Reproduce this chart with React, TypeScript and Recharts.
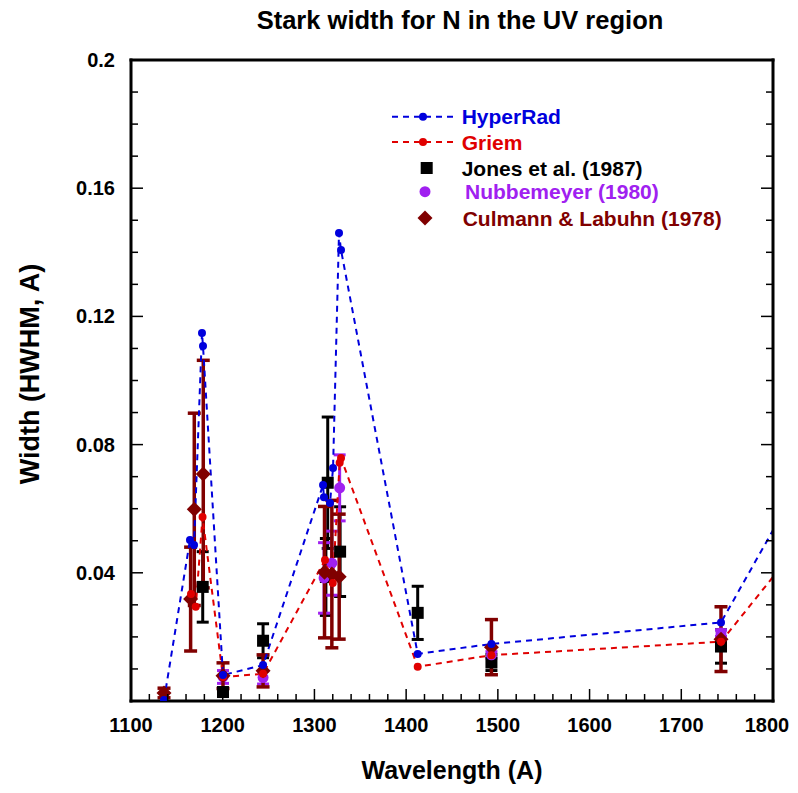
import React from 'react';
import { ComposedChart, Line, Scatter, XAxis, YAxis, ErrorBar } from 'recharts';

// HyperRad theory (blue dashed)
const hyperRadX = [1136, 1164.3, 1168.7, 1177.4, 1178.5, 1200.3, 1244, 1309.4, 1310.4, 1317, 1320.3, 1326.8, 1329, 1412.6, 1493, 1743.3, 1800];
const hyperRadY = [0.0003, 0.0502, 0.0487, 0.1148, 0.1108, 0.0081, 0.0112, 0.0674, 0.0636, 0.0618, 0.0727, 0.146, 0.1407, 0.0147, 0.0178, 0.0245, 0.0533];

// Griem theory (red dashed)
const griemX = [1165.4, 1170.6, 1178, 1200.3, 1244, 1311.5, 1320, 1327.5, 1329, 1412.6, 1493, 1743.3, 1800];
const griemY = [0.0334, 0.0294, 0.0574, 0.0075, 0.0085, 0.044, 0.0368, 0.0743, 0.0758, 0.0107, 0.0143, 0.0185, 0.0387];

// Jones et al. (1987)
const jonesX = [1178.2, 1200.3, 1244, 1312.5, 1314.5, 1328, 1412.6, 1493, 1743.3];
const jonesY = [0.0356, 0.0028, 0.0188, 0.0387, 0.0681, 0.0466, 0.0275, 0.012, 0.017];
const jonesErr = [0.011, 0.001, 0.0053, 0.012, 0.0205, 0.014, 0.0083, 0.0025, 0.0052];

// Nubbemeyer (1980)
const nubX = [1200.3, 1244, 1310.5, 1319, 1327.5, 1493, 1743.3];
const nubY = [0.0075, 0.0073, 0.0384, 0.043, 0.0665, 0.0144, 0.0212];
const nubErr = [0.002, 0.002, 0.011, 0.01, 0.0103, 0.001, 0.001];

// Culmann & Labuhn (1978)
const culX = [1136, 1165, 1169, 1178.8, 1200.3, 1244, 1311, 1319, 1327, 1493, 1743.3];
const culY = [0.0025, 0.0318, 0.0598, 0.0708, 0.0079, 0.0094, 0.0402, 0.0396, 0.0388, 0.0168, 0.0193];
const culErr = [0.0015, 0.0162, 0.03, 0.0355, 0.004, 0.005, 0.0205, 0.023, 0.0195, 0.0086, 0.0101];

// Axis ticks
const xMajorTicks = [1100, 1200, 1300, 1400, 1500, 1600, 1700, 1800];
const xMinorTicks = [1120, 1140, 1160, 1180, 1220, 1240, 1260, 1280, 1320, 1340, 1360, 1380, 1420, 1440, 1460, 1480, 1520, 1540, 1560, 1580, 1620, 1640, 1660, 1680, 1720, 1740, 1760, 1780];
const yMajorTicks = [0, 0.04, 0.08, 0.12, 0.16, 0.2];
const yMinorTicks = [0.01, 0.02, 0.03, 0.05, 0.06, 0.07, 0.09, 0.1, 0.11, 0.13, 0.14, 0.15, 0.17, 0.18, 0.19];
const yLabelTicks = [0.04, 0.08, 0.12, 0.16, 0.2];

const zip2 = (xs: number[], ys: number[]) => xs.map((x, i) => ({ x, y: ys[i] }));
const zip3 = (xs: number[], ys: number[], es: number[]) => xs.map((x, i) => ({ x, y: ys[i], err: es[i] }));

const hyperRadData = zip2(hyperRadX, hyperRadY);
const griemData = zip2(griemX, griemY);
const jonesData = zip3(jonesX, jonesY, jonesErr);
const nubData = zip3(nubX, nubY, nubErr);
const culData = zip3(culX, culY, culErr);

const xAllTicks = [...xMajorTicks, ...xMinorTicks].sort((a, b) => a - b);
const yAllTicks = [...yMajorTicks, ...yMinorTicks].sort((a, b) => a - b);

const FONT = '"Liberation Sans", Arial, Helvetica, sans-serif';
const BLUE = '#0000dd';
const RED = '#e00000';
const PURPLE = '#a020f0';
const MAROON = '#800000';

const MAJ = 12;
const MIN = 7;

const BottomTick = (props: any) => {
  const { x, y, payload } = props;
  const v = payload.value;
  const major = xMajorTicks.includes(v);
  const last = v === xMajorTicks[xMajorTicks.length - 1];
  return (
    <g>
      <line x1={x} x2={x} y1={y} y2={y - (major ? MAJ : MIN)} stroke="#000" strokeWidth={1.5} />
      {major && (
        <text x={last ? x - 6 : x} y={y + 31} textAnchor="middle" fontSize={20} fontWeight="bold" fontFamily={FONT} fill="#000">
          {v}
        </text>
      )}
    </g>
  );
};

const TopTick = (props: any) => {
  const { x, y, payload } = props;
  const major = xMajorTicks.includes(payload.value);
  return <line x1={x} x2={x} y1={y} y2={y + (major ? MAJ : MIN)} stroke="#000" strokeWidth={1.5} />;
};

const LeftTick = (props: any) => {
  const { x, y, payload } = props;
  const v = payload.value;
  const major = yMajorTicks.includes(v);
  const label = yLabelTicks.includes(v);
  return (
    <g>
      <line x1={x} x2={x + (major ? MAJ : MIN)} y1={y} y2={y} stroke="#000" strokeWidth={1.5} />
      {label && (
        <text x={x - 16} y={y + 7} textAnchor="end" fontSize={20} fontWeight="bold" fontFamily={FONT} fill="#000">
          {String(v)}
        </text>
      )}
    </g>
  );
};

const RightTick = (props: any) => {
  const { x, y, payload } = props;
  const major = yMajorTicks.includes(payload.value);
  return <line x1={x} x2={x - (major ? MAJ : MIN)} y1={y} y2={y} stroke="#000" strokeWidth={1.5} />;
};

const makeDot = (color: string) => (props: any) => {
  const { cx, cy, payload, index } = props;
  if (payload.x >= 1800 || cx == null) return <g key={`d${index}`} />;
  return <circle key={`d${index}`} cx={cx} cy={cy} r={4} fill={color} stroke="none" />;
};

const SquareShape = (props: any) => {
  const { cx, cy } = props;
  return <rect x={cx - 6} y={cy - 6} width={12} height={12} fill="#000" />;
};
const CircleShape = (props: any) => {
  const { cx, cy } = props;
  return <circle cx={cx} cy={cy} r={5.5} fill={PURPLE} />;
};
const DiamondShape = (props: any) => {
  const { cx, cy } = props;
  const d = 7.5;
  return <polygon points={`${cx},${cy - d} ${cx + d},${cy} ${cx},${cy + d} ${cx - d},${cy}`} fill={MAROON} />;
};

const axisLineStyle = { stroke: '#000', strokeWidth: 3, strokeLinecap: 'square' as const };

const W = 782;
const H = 777;

export default function App() {
  return (
    <div style={{ position: 'relative', width: W, height: H }}>
      <ComposedChart width={W} height={H} margin={{ top: 51, left: 122, right: 16, bottom: 83 }}>
        <XAxis
          xAxisId="main"
          dataKey="x"
          type="number"
          domain={[1100, 1800]}
          allowDataOverflow
          ticks={xAllTicks}
          interval={0}
          height={1}
          tickSize={0}
          tickMargin={0}
          tickLine={false}
          axisLine={axisLineStyle}
          tick={<BottomTick />}
        />
        <XAxis
          xAxisId="top"
          orientation="top"
          type="number"
          domain={[1100, 1800]}
          allowDataOverflow
          ticks={xAllTicks}
          interval={0}
          height={1}
          tickSize={0}
          tickMargin={0}
          tickLine={false}
          axisLine={axisLineStyle}
          tick={<TopTick />}
        />
        <YAxis
          yAxisId="main"
          dataKey="y"
          type="number"
          domain={[0, 0.2]}
          allowDataOverflow
          ticks={yAllTicks}
          interval={0}
          width={1}
          tickSize={0}
          tickMargin={0}
          tickLine={false}
          axisLine={axisLineStyle}
          tick={<LeftTick />}
        />
        <YAxis
          yAxisId="right"
          orientation="right"
          type="number"
          domain={[0, 0.2]}
          allowDataOverflow
          ticks={yAllTicks}
          interval={0}
          width={1}
          tickSize={0}
          tickMargin={0}
          tickLine={false}
          axisLine={axisLineStyle}
          tick={<RightTick />}
        />

        <Scatter name="Jones et al. (1987)" data={jonesData} dataKey="y" xAxisId="main" yAxisId="main" shape={<SquareShape />} isAnimationActive={false}>
          <ErrorBar dataKey="err" direction="y" width={6} stroke="#000" strokeWidth={3} isAnimationActive={false} />
        </Scatter>
        <Scatter name="Nubbemeyer (1980)" data={nubData} dataKey="y" xAxisId="main" yAxisId="main" shape={<CircleShape />} isAnimationActive={false}>
          <ErrorBar dataKey="err" direction="y" width={6} stroke={PURPLE} strokeWidth={3} isAnimationActive={false} />
        </Scatter>
        <Scatter name="Culmann & Labuhn (1978)" data={culData} dataKey="y" xAxisId="main" yAxisId="main" shape={<DiamondShape />} isAnimationActive={false}>
          <ErrorBar dataKey="err" direction="y" width={6.5} stroke={MAROON} strokeWidth={3.5} isAnimationActive={false} />
        </Scatter>

        <Line
          name="Griem"
          data={griemData}
          dataKey="y"
          xAxisId="main"
          yAxisId="main"
          type="linear"
          stroke={RED}
          strokeWidth={2}
          strokeDasharray="6 5"
          dot={makeDot(RED)}
          activeDot={false}
          isAnimationActive={false}
        />
        <Line
          name="HyperRad"
          data={hyperRadData}
          dataKey="y"
          xAxisId="main"
          yAxisId="main"
          type="linear"
          stroke={BLUE}
          strokeWidth={2}
          strokeDasharray="6 5"
          dot={makeDot(BLUE)}
          activeDot={false}
          isAnimationActive={false}
        />
      </ComposedChart>

      <svg
        width={W}
        height={H}
        style={{ position: 'absolute', left: 0, top: 0, overflow: 'visible', pointerEvents: 'none' }}
      >
        <g fontFamily={FONT} fontWeight="bold">
          <text x={452} y={21} textAnchor="middle" fontSize={25.5} fill="#000">
            Stark width for N in the UV region
          </text>
          <text x={444} y={771} textAnchor="middle" fontSize={25} fill="#000">
            Wavelength (A)
          </text>
          <text x={31} y={366} textAnchor="middle" fontSize={27} fill="#000" transform="rotate(-90 31 366)">
            Width (HWHM, A)
          </text>

          {/* Legend */}
          <line x1={384} x2={447} y1={108.7} y2={108.7} stroke={BLUE} strokeWidth={2} strokeDasharray="6 5" />
          <circle cx={415} cy={108.7} r={4} fill={BLUE} />
          <text x={453.7} y={116} fontSize={21} fill={BLUE}>HyperRad</text>

          <line x1={384} x2={447} y1={134} y2={134} stroke={RED} strokeWidth={2} strokeDasharray="6 5" />
          <circle cx={415} cy={134} r={4} fill={RED} />
          <text x={453.7} y={141.5} fontSize={21} fill={RED}>Griem</text>

          <rect x={412.7} y={154} width={12} height={12} fill="#000" />
          <text x={453.7} y={167.5} fontSize={21} fill="#000">Jones et al. (1987)</text>

          <circle cx={417} cy={183.7} r={5.5} fill={PURPLE} />
          <text x={457} y={191} fontSize={21} fill={PURPLE}>Nubbemeyer (1980)</text>

          <polygon points="417,202.5 424.5,210 417,217.5 409.5,210" fill={MAROON} />
          <text x={454.7} y={217.5} fontSize={21} fill={MAROON}>Culmann &amp; Labuhn (1978)</text>
        </g>
      </svg>
    </div>
  );
}
